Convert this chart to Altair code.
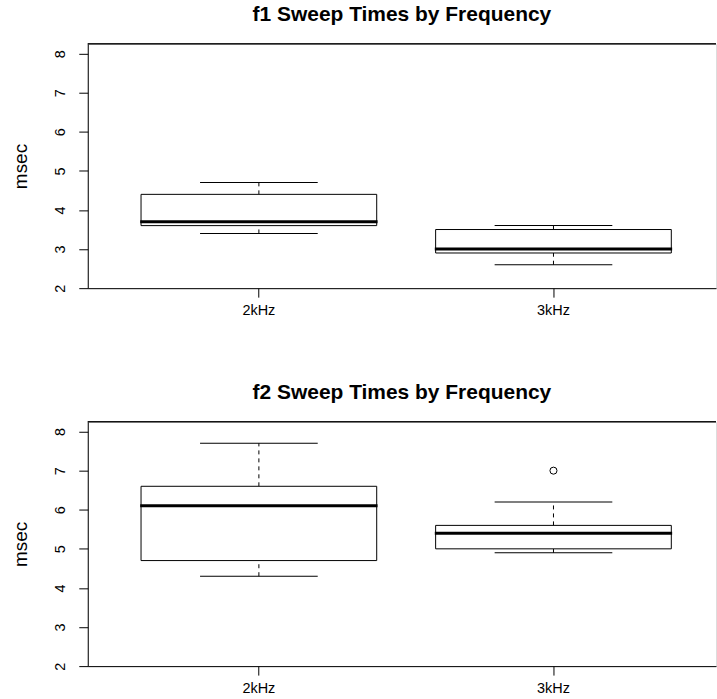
import altair as alt
import pandas as pd

groups = ["2kHz", "3kHz"]

f1_lower = [3.4, 2.6]
f1_q1 = [3.6, 2.9]
f1_median = [3.7, 3.0]
f1_q3 = [4.4, 3.5]
f1_upper = [4.7, 3.6]
f1_out_group = []
f1_out_value = []

f2_lower = [4.3, 4.9]
f2_q1 = [4.7, 5.0]
f2_median = [6.1, 5.4]
f2_q3 = [6.6, 5.6]
f2_upper = [7.7, 6.2]
f2_out_group = ["3kHz"]
f2_out_value = [7.0]

y_ticks = [2, 3, 4, 5, 6, 7, 8]

FONT = "Liberation Sans"
W, H = 630, 245


def panel(title, lower, q1, med, q3, upper, og, ov):
    stats = pd.DataFrame({"group": groups, "lower": lower, "q1": q1,
                          "median": med, "q3": q3, "upper": upper})
    outl = pd.DataFrame({"group": pd.Series(og, dtype="object"),
                         "value": pd.Series(ov, dtype="float")})
    xscale = alt.Scale(domain=groups, paddingInner=0, paddingOuter=0.0663, align=0.61)
    yscale = alt.Scale(domain=[2, 8.25], nice=False, zero=False)
    xaxis = alt.Axis(title=None, labelAngle=0, domain=True, domainColor="black",
                     ticks=True, tickColor="black", tickSize=9, labelFont=FONT,
                     labelFontSize=14.5, labelColor="black", labelPadding=6, grid=False)
    yaxis = alt.Axis(title="msec", values=y_ticks, labelAngle=-90, labelAlign="center",
                     labelBaseline="bottom", domain=True, domainColor="black",
                     ticks=True, tickColor="black", tickSize=9, labelFont=FONT,
                     labelFontSize=14.5, labelColor="black", labelPadding=11,
                     grid=False, titleFont=FONT, titleFontSize=19,
                     titleFontWeight="normal", titleColor="black", titlePadding=22)
    x = alt.X("group:N", scale=xscale, sort=groups, axis=xaxis)

    def Y(f):
        return alt.Y(f + ":Q", scale=yscale, axis=yaxis)

    base = alt.Chart(stats)
    whisk_lo = base.mark_rule(color="black", strokeDash=[4, 4], strokeWidth=1).encode(
        x=x, y=Y("lower"), y2="q1:Q")
    whisk_hi = base.mark_rule(color="black", strokeDash=[4, 4], strokeWidth=1).encode(
        x=x, y=Y("q3"), y2="upper:Q")
    cap_lo = base.mark_tick(size=118, thickness=1, color="black", opacity=1).encode(
        x=x, y=Y("lower"))
    cap_hi = base.mark_tick(size=118, thickness=1, color="black", opacity=1).encode(
        x=x, y=Y("upper"))
    box = base.mark_bar(width={"band": 0.8}, fill="white", stroke="black",
                        strokeWidth=1, opacity=1).encode(x=x, y=Y("q1"), y2="q3:Q")
    mline = base.mark_tick(size=238, thickness=3, color="black", opacity=1).encode(
        x=x, y=Y("median"))
    layers = [whisk_lo, whisk_hi, box, mline, cap_lo, cap_hi]
    if len(outl):
        pts = alt.Chart(outl).mark_point(shape="circle", filled=False, size=50,
                                         color="black", strokeWidth=1, opacity=1).encode(
            x=x, y=Y("value"))
        layers.append(pts)
    frame_top = base.mark_rule(color="black", strokeWidth=1).encode(
        x=alt.value(0), x2=alt.value(W), y=alt.value(0))
    layers.append(frame_top)
    return alt.layer(*layers).properties(
        width=W, height=H,
        title=alt.TitleParams(title, font=FONT, fontSize=21, fontWeight="bold",
                              color="black", anchor="middle", frame="group", offset=18))


top = panel("f1 Sweep Times by Frequency", f1_lower, f1_q1, f1_median, f1_q3,
            f1_upper, f1_out_group, f1_out_value)
bottom = panel("f2 Sweep Times by Frequency", f2_lower, f2_q1, f2_median, f2_q3,
               f2_upper, f2_out_group, f2_out_value)

chart = alt.vconcat(top, bottom, spacing=65).properties(
    padding={"left": 11, "top": 3, "right": 0, "bottom": 0}
).configure_view(stroke=None).configure(background="white")

chart.save("out.html", embed_options={"renderer": "svg", "actions": False})
